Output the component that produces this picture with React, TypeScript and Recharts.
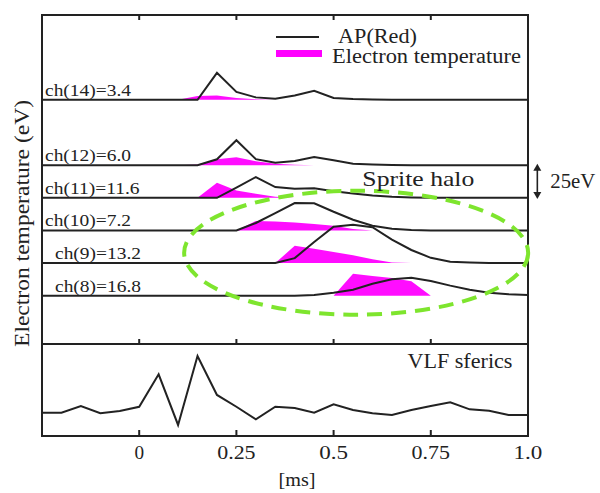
import {
  ComposedChart,
  Line,
  Area,
  XAxis,
  YAxis,
  ReferenceArea,
  ReferenceDot,
  ReferenceLine,
} from 'recharts'

/* ---------- data ---------- */

// time axis in ms, 0.05 ms steps
const TIME = [
  -0.25, -0.2, -0.15, -0.1, -0.05, 0, 0.05, 0.1, 0.15, 0.2, 0.25, 0.3, 0.35,
  0.4, 0.45, 0.5, 0.55, 0.6, 0.65, 0.7, 0.75, 0.8, 0.85, 0.9, 0.95, 1.0,
]

const CHANNELS = [14, 12, 11, 10, 9, 8]
// vertical stacking of the channels (eV)
const OFFSETS = [150, 100, 75, 50, 25, 0]

// AP (Red) photometer, drawn in the same eV units as the stack
const AP_14 = [0, 0, 0, 0, 0, 0, 0, 0, 0, 20.7, 6.1, 1.9, 0.8, 3.4, 6.9, 1.5, 0.6, 0.3, 0, 0, 0, 0, 0, 0, 0, 0]
const AP_12 = [0, 0, 0, 0, 0, 0, 0, 0, 0, 4.5, 19.1, 4.6, 1.8, 3.2, 6.3, 3.8, 1.0, 0.5, 0.2, 0, 0, 0, 0, 0, 0, 0]
const AP_11 = [0, 0, 0, 0, 0, 0, 0, 0, 0, 0, 7.8, 15.9, 8.2, 6.9, 7.3, 5.0, 3.2, 1.7, 0.7, 0.2, 0, 0, 0, 0, 0, 0]
const AP_10 = [0, 0, 0, 0, 0, 0, 0, 0, 0, 0, 0, 5.7, 13.3, 21.0, 20.8, 14.3, 8.2, 3.6, 1.3, 0.4, 0, 0, 0, 0, 0, 0]
const AP_9 = [0, 0, 0, 0, 0, 0, 0, 0, 0, 0, 0, 0, 0, 3.8, 16.1, 27.8, 29.3, 27.5, 18.0, 10.0, 4.0, 1.0, 0.4, 0, 0, 0]
const AP_8 = [0, 0, 0, 0, 0, 0, 0, 0, 0, 0, 0, 0, 0, 0, 0.5, 2.3, 4.6, 9.2, 12.6, 13.8, 11.2, 7.7, 4.6, 2.3, 1.2, 0.5]

// electron temperature (eV)
const TE_14 = [0, 0, 0, 0, 0, 0, 0, 0, 3.0, 3.4, 1.5, 0.5, 0, 0, 0, 0, 0, 0, 0, 0, 0, 0, 0, 0, 0, 0]
const TE_12 = [0, 0, 0, 0, 0, 0, 0, 0, 0.5, 4.5, 6.0, 3.0, 1.0, 0.3, 0, 0, 0, 0, 0, 0, 0, 0, 0, 0, 0, 0]
const TE_11 = [0, 0, 0, 0, 0, 0, 0, 0, 0, 11.6, 5.5, 3.0, 0.8, 0, 0, 0, 0, 0, 0, 0, 0, 0, 0, 0, 0, 0]
const TE_10 = [0, 0, 0, 0, 0, 0, 0, 0, 0, 0, 0, 7.2, 6.8, 6.0, 5.0, 3.5, 1.0, 0, 0, 0, 0, 0, 0, 0, 0, 0]
const TE_9 = [0, 0, 0, 0, 0, 0, 0, 0, 0, 0, 0, 0, 0, 13.2, 11.0, 8.5, 6.0, 3.0, 0.5, 0, 0, 0, 0, 0, 0, 0]
const TE_8 = [0, 0, 0, 0, 0, 0, 0, 0, 0, 0, 0, 0, 0, 0, 0, 0, 16.8, 15.0, 13.5, 11.0, 0, 0, 0, 0, 0, 0]

// VLF sferics (arbitrary units)
const VLF = [
  25.3, 25.3, 32.6, 24.7, 27.2, 31.8, 67, 12, 87, 44.6, 31.8, 18.2, 31.8,
  30.4, 25.3, 34.5, 28.3, 24.7, 22.8, 28.3, 32.6, 36.6, 29, 27.5, 22.8, 22.8,
]

const X_TICKS = [0, 0.25, 0.5, 0.75, 1.0]
const X_TICK_LABELS = ['0', '0.25', '0.5', '0.75', '1.0']

const AP = [AP_14, AP_12, AP_11, AP_10, AP_9, AP_8]
const TE = [TE_14, TE_12, TE_11, TE_10, TE_9, TE_8]

/* ---------- layout / style ---------- */

const FONT = "'Liberation Serif', 'Times New Roman', serif"
const INK = '#222'
const MAGENTA = '#ff00ff'
const HALO = '#7ee52e'
const X_DOMAIN = [-0.25, 1.0]
const TOP_Y = [-37, 215]
const LABEL_INDENT = [3, 3, 3, 3, 13, 13]

const rows = TIME.map((t, i) => {
  const r: Record<string, any> = { t }
  CHANNELS.forEach((ch, k) => {
    r[`ap${ch}`] = OFFSETS[k] + AP[k][i]
    r[`te${ch}`] = [OFFSETS[k], OFFSETS[k] + TE[k][i]]
  })
  return r
})

const vlfRows = TIME.map((t, i) => ({ t, vlf: VLF[i] }))

function Txt(props: any) {
  const { x, y, size, len, anchor = 'start', rotate, children } = props
  return (
    <text
      x={x}
      y={y}
      fontSize={size}
      fontFamily={FONT}
      fill={INK}
      textAnchor={anchor}
      textLength={len}
      lengthAdjust="spacingAndGlyphs"
      transform={rotate ? `rotate(-90 ${x} ${y})` : undefined}
    >
      {children}
    </text>
  )
}

// inward tick marks on the panel edges
function EdgeTick(props: any) {
  const { x, y, dir } = props
  return <line x1={x} x2={x} y1={y} y2={y + dir * 5} stroke={INK} strokeWidth={2} />
}

function MsTick(props: any) {
  const { x, y, payload } = props
  const label = X_TICK_LABELS[X_TICKS.indexOf(payload.value)]
  return (
    <g>
      <line x1={x} x2={x} y1={y} y2={y - 6} stroke={INK} strokeWidth={2} />
      <Txt x={x} y={y + 23} size={18} len={label.length * 9.6} anchor="middle">
        {label}
      </Txt>
    </g>
  )
}

function ScaleBar(props: any) {
  const { x1, y1, y2 } = props
  const top = Math.min(y1, y2)
  const bot = Math.max(y1, y2)
  return (
    <g>
      <line x1={x1} x2={x1} y1={top + 5} y2={bot - 5} stroke={INK} strokeWidth={1.6} />
      <path d={`M${x1 - 4},${top + 7} L${x1},${top} L${x1 + 4},${top + 7} Z`} fill={INK} />
      <path d={`M${x1 - 4},${bot - 7} L${x1},${bot} L${x1 + 4},${bot - 7} Z`} fill={INK} />
      <Txt x={x1 + 13} y={(top + bot) / 2 + 7} size={20} len={45}>
        25eV
      </Txt>
    </g>
  )
}

export default function App() {
  return (
    <div style={{ position: 'absolute', left: 0, top: 0, width: 600, height: 493, background: '#fff' }}>
      {/* electron temperature / AP traces */}
      <div style={{ position: 'absolute', left: 0, top: 0 }}>
        <ComposedChart
          width={600}
          height={493}
          data={rows}
          margin={{ top: 14, right: 72, bottom: 148, left: 42 }}
        >
          <XAxis
            xAxisId="t"
            dataKey="t"
            type="number"
            domain={X_DOMAIN}
            ticks={X_TICKS}
            orientation="top"
            height={1}
            tickSize={0}
            tickMargin={0}
            interval={0}
            axisLine={false}
            tickLine={false}
            allowDataOverflow
            tick={<EdgeTick dir={1} />}
          />
          <XAxis
            xAxisId="b"
            dataKey="t"
            type="number"
            domain={X_DOMAIN}
            ticks={X_TICKS}
            orientation="bottom"
            height={1}
            tickSize={0}
            tickMargin={0}
            interval={0}
            axisLine={false}
            tickLine={false}
            allowDataOverflow
            tick={<EdgeTick dir={-1} />}
          />
          <YAxis type="number" domain={TOP_Y} hide allowDataOverflow />

          {CHANNELS.map((ch) => (
            <Area
              key={`te${ch}`}
              xAxisId="t"
              dataKey={`te${ch}`}
              type="linear"
              stroke="none"
              fill={MAGENTA}
              fillOpacity={0.95}
              isAnimationActive={false}
            />
          ))}
          {CHANNELS.map((ch) => (
            <Line
              key={`ap${ch}`}
              xAxisId="t"
              dataKey={`ap${ch}`}
              type="linear"
              stroke={INK}
              strokeWidth={2}
              dot={false}
              activeDot={false}
              isAnimationActive={false}
            />
          ))}

          <ReferenceArea
            xAxisId="t"
            x1={X_DOMAIN[0]}
            x2={X_DOMAIN[1]}
            y1={TOP_Y[0]}
            y2={TOP_Y[1]}
            fill="none"
            stroke={INK}
            strokeWidth={2}
            ifOverflow="visible"
          />

          {CHANNELS.map((ch, k) => (
            <ReferenceDot
              key={`lab${ch}`}
              xAxisId="t"
              x={X_DOMAIN[0]}
              y={OFFSETS[k]}
              r={0}
              ifOverflow="visible"
              shape={(p: any) => {
                const text = `ch(${ch})=${Math.max(...TE[k]).toFixed(1)}`
                return (
                  <Txt x={p.cx + LABEL_INDENT[k]} y={p.cy - 4} size={17} len={text.length * 8.6}>
                    {text}
                  </Txt>
                )
              }}
            />
          ))}

          {/* sprite halo region */}
          <ReferenceDot
            xAxisId="t"
            x={0.558}
            y={32.9}
            r={0}
            ifOverflow="visible"
            shape={(p: any) => (
              <ellipse
                cx={p.cx}
                cy={p.cy}
                rx={172}
                ry={62}
                fill="none"
                stroke={HALO}
                strokeWidth={4}
                strokeDasharray="15 9"
              />
            )}
          />
          <ReferenceDot
            xAxisId="t"
            x={0.574}
            y={84.3}
            r={0}
            ifOverflow="visible"
            shape={(p: any) => (
              <Txt x={p.cx} y={p.cy} size={22} len={112}>
                Sprite halo
              </Txt>
            )}
          />

          {/* 25 eV scale bar */}
          <ReferenceLine
            xAxisId="t"
            segment={[
              { x: 1.024, y: 101 },
              { x: 1.024, y: 74 },
            ]}
            ifOverflow="visible"
            shape={<ScaleBar />}
          />
        </ComposedChart>
      </div>

      {/* VLF sferics */}
      <div style={{ position: 'absolute', left: 0, top: 0 }}>
        <ComposedChart
          width={600}
          height={493}
          data={vlfRows}
          margin={{ top: 344, right: 72, bottom: 27, left: 42 }}
        >
          <XAxis
            dataKey="t"
            type="number"
            domain={X_DOMAIN}
            ticks={X_TICKS}
            height={30}
            tickSize={0}
            tickMargin={0}
            interval={0}
            axisLine={false}
            tickLine={false}
            allowDataOverflow
            tick={<MsTick />}
          />
          <YAxis type="number" domain={[0, 100]} hide allowDataOverflow />
          <Line
            dataKey="vlf"
            type="linear"
            stroke={INK}
            strokeWidth={2}
            dot={false}
            activeDot={false}
            isAnimationActive={false}
          />
          <ReferenceArea
            x1={X_DOMAIN[0]}
            x2={X_DOMAIN[1]}
            y1={0}
            y2={100}
            fill="none"
            stroke={INK}
            strokeWidth={2}
            ifOverflow="visible"
          />
          <ReferenceDot
            x={0.69}
            y={73.6}
            r={0}
            ifOverflow="visible"
            shape={(p: any) => (
              <Txt x={p.cx} y={p.cy} size={21} len={105}>
                VLF sferics
              </Txt>
            )}
          />
        </ComposedChart>
      </div>

      {/* axis titles and legend */}
      <svg
        width={600}
        height={493}
        style={{ position: 'absolute', left: 0, top: 0, pointerEvents: 'none' }}
      >
        <Txt x={28.5} y={223.5} size={22} len={247} anchor="middle" rotate>
          Electron temperature (eV)
        </Txt>
        <Txt x={297} y={486} size={18} len={37} anchor="middle">
          [ms]
        </Txt>

        <line x1={276} x2={319} y1={37} y2={37} stroke={INK} strokeWidth={2} />
        <line x1={276} x2={322} y1={53.5} y2={53.5} stroke={MAGENTA} strokeWidth={7} />
        <Txt x={338} y={43} size={20} len={79}>
          AP(Red)
        </Txt>
        <Txt x={332} y={63} size={20} len={189}>
          Electron temperature
        </Txt>
      </svg>
    </div>
  )
}
